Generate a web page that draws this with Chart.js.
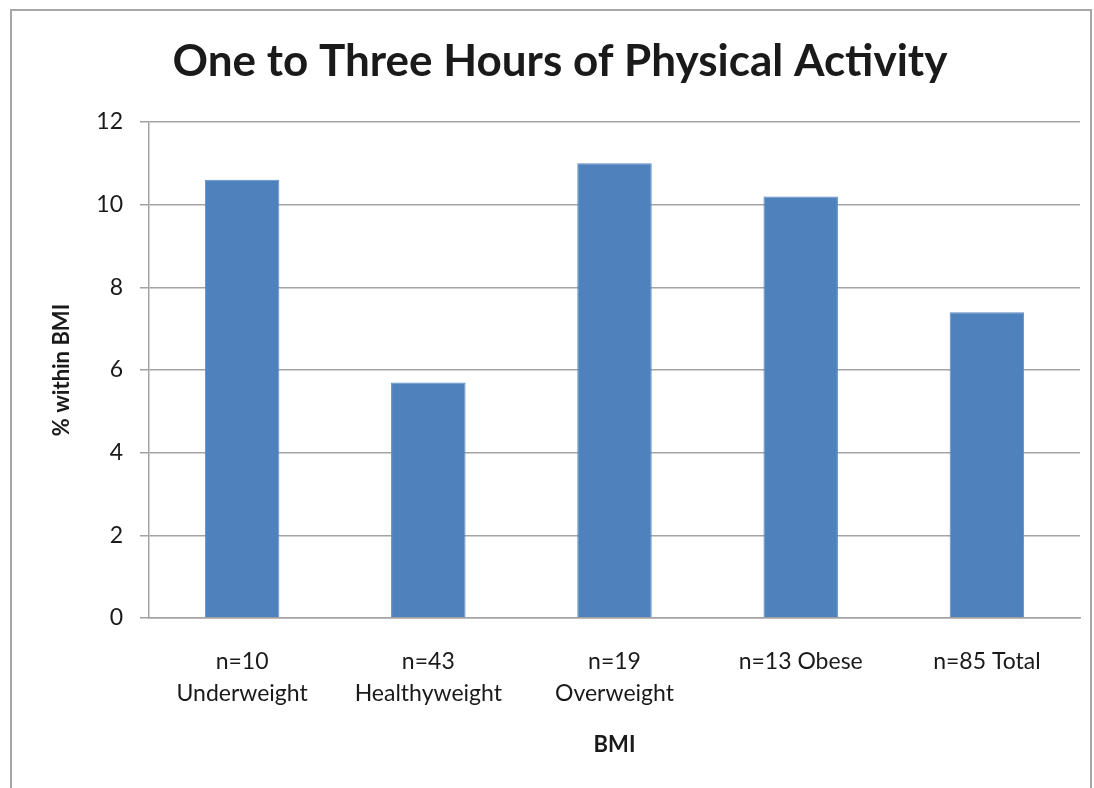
<!DOCTYPE html>
<html>
<head>
<meta charset="utf-8">
<script src="https://cdn.jsdelivr.net/npm/chart.js@4.4.1/dist/chart.umd.min.js"></script>
<style>
  body { margin: 0; background: #fff; }
  #frame { position: absolute; left: 10px; top: 9px; width: 1078px; height: 820px; border: 2px solid #a6a6a6; }
  #wrap { position: absolute; left: 0; top: 0; width: 1094px; height: 788px; }
</style>
</head>
<body>
<div id="frame"></div>
<div id="wrap"><canvas id="myChart" width="1094" height="788"></canvas></div>
<script>
var categories = [['n=10', 'Underweight'], ['n=43', 'Healthyweight'], ['n=19', 'Overweight'], 'n=13 Obese', 'n=85 Total'];
var percentWithinBMI = [10.6, 5.7, 11.0, 10.2, 7.4];
var yTicks = [0, 2, 4, 6, 8, 10, 12];

var fontFamily = 'Lato, "Open Sans", sans-serif';
var gridColor = '#a3a3a3';

var ctx = document.getElementById('myChart');
var myChart = new Chart(ctx, {
  type: 'bar',
  data: {
    labels: categories,
    datasets: [{
      label: '% within BMI',
      data: percentWithinBMI,
      backgroundColor: '#4f81bd',
      borderColor: '#5a8cc6',
      borderWidth: 1,
      barPercentage: 0.4,
      categoryPercentage: 1.0
    }]
  },
  options: {
    responsive: false,
    animation: false,
    // left padding pushes the title centre to the right, like the original
    layout: { padding: { left: 40, right: 14, top: 0, bottom: 0 } },
    plugins: {
      legend: { display: false },
      tooltip: { enabled: false },
      title: {
        display: true,
        text: 'One to Three Hours of Physical Activity',
        color: '#1a1a1a',
        font: { family: fontFamily, size: 44, weight: 'bold', lineHeight: 1.2 },
        padding: { top: 35.6, bottom: 33.6 }
      }
    },
    scales: {
      x: {
        grid: { display: false, drawTicks: false },
        border: { display: true, color: gridColor, width: 1.5 },
        ticks: {
          color: '#1a1a1a',
          font: { family: fontFamily, size: 23, lineHeight: 1.39 },
          padding: 28,
          maxRotation: 0,
          autoSkip: false
        },
        title: {
          display: true,
          text: 'BMI',
          color: '#1a1a1a',
          font: { family: fontFamily, size: 22, weight: 'bold', lineHeight: 1.2 },
          padding: { top: 0, bottom: 30 }
        },
        afterFit: function (scale) { scale.height = 170; }
      },
      y: {
        min: 0,
        max: 12,
        afterBuildTicks: function (scale) {
          scale.ticks = yTicks.map(function (v) { return { value: v }; });
        },
        grid: { color: gridColor, lineWidth: 1.5, tickLength: 9, drawTicks: true },
        border: { display: true, color: gridColor, width: 1.5 },
        ticks: {
          color: '#1a1a1a',
          font: { family: fontFamily, size: 23 },
          padding: 17
        },
        title: {
          display: true,
          text: '% within BMI',
          color: '#1a1a1a',
          font: { family: fontFamily, size: 22, weight: 'bold', lineHeight: 1.2 },
          padding: { top: 9, bottom: 0 }
        },
        afterFit: function (scale) { scale.width = 109; }
      }
    }
  }
});
</script>
</body>
</html>
